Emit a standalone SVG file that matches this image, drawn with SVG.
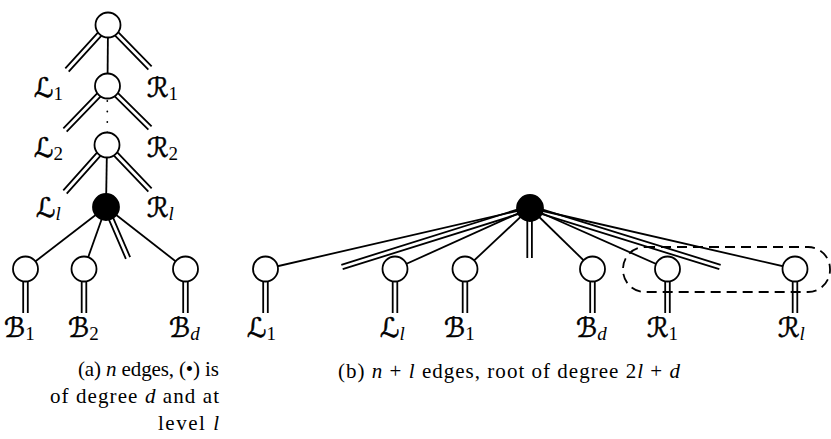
<svg xmlns="http://www.w3.org/2000/svg" width="831" height="439" viewBox="0 0 831 439">
<style>
.e{stroke:#000;stroke-width:1.8;fill:none;stroke-linecap:butt}
.n{fill:#fff;stroke:#000;stroke-width:1.8}
.k{fill:#000;stroke:#000;stroke-width:1.8}
.lab{font-family:"DejaVu Serif","DejaVu Sans",serif;font-size:27px;fill:#000;stroke:#000;stroke-width:0.6}
.sub{font-family:"Liberation Serif","Times New Roman",serif;font-size:19px;stroke:none}
.it{font-style:italic}
.cap{font-family:"Liberation Serif","Times New Roman",serif;font-size:21px;fill:#000}
.dash{stroke:#000;stroke-width:1.8;fill:none;stroke-dasharray:10 6}
</style>
<g id="connectors">
<!-- (a) -->
<line class="e" x1="108" y1="25" x2="107.5" y2="86"/>
<path class="e" d="M106.3,23.45L65.3,68.45M109.7,26.55L68.7,71.55"/>
<path class="e" d="M106.36,26.61L148.36,69.61M109.65,23.39L151.65,66.39"/>
<path class="e" d="M105.85,84.4L63.35,128.4M109.15,87.6L66.65,131.6"/>
<path class="e" d="M105.88,87.64L148.38,129.64M109.12,84.36L151.62,126.36"/>
<g fill="#000"><circle cx="107.3" cy="101" r="0.9"/><circle cx="107.3" cy="111.5" r="0.9"/><circle cx="107.3" cy="122" r="0.9"/><circle cx="107.3" cy="132.5" r="0.9"/></g>
<path class="e" d="M105.28,143.47L63.28,190.47M108.72,146.53L66.72,193.53"/>
<path class="e" d="M105.34,146.59L148.34,191.59M108.66,143.41L151.66,188.41"/>
<line class="e" x1="107" y1="145" x2="106" y2="207"/>
<line class="e" x1="106" y1="207" x2="25.5" y2="269"/>
<line class="e" x1="106" y1="207" x2="84" y2="269"/>
<line class="e" x1="106" y1="207" x2="185.5" y2="269"/>
<path class="e" d="M103.89,207.91L125.89,258.91M108.11,206.09L130.11,257.09"/>
<path class="e" d="M23.2,269V313M27.8,269V313"/>
<path class="e" d="M81.7,269V313M86.3,269V313"/>
<path class="e" d="M183.2,269V313M187.8,269V313"/>
<!-- (b) -->
<line class="e" x1="530" y1="208" x2="265.5" y2="269"/>
<path class="e" d="M529.31,205.81L341.31,264.81M530.69,210.19L342.69,269.19"/>
<line class="e" x1="530" y1="208" x2="395" y2="269"/>
<line class="e" x1="530" y1="208" x2="465" y2="269"/>
<path class="e" d="M527.3,208V258M531.9,208V258"/>
<line class="e" x1="530" y1="208" x2="592.5" y2="269"/>
<line class="e" x1="530" y1="208" x2="667.5" y2="269"/>
<path class="e" d="M529.32,210.2L719.32,269.2M530.68,205.8L720.68,264.8"/>
<line class="e" x1="530" y1="208" x2="795" y2="269"/>
<path class="e" d="M263.2,269V313M267.8,269V313"/>
<path class="e" d="M392.7,269V313M397.3,269V313"/>
<path class="e" d="M462.7,269V313M467.3,269V313"/>
<path class="e" d="M590.2,269V313M594.8,269V313"/>
<path class="e" d="M665.2,269V313M669.8,269V313"/>
<path class="e" d="M792.7,269V313M797.3,269V313"/>
</g>
<g id="group-R">
<rect class="dash" x="623" y="247" width="207" height="45" rx="22" ry="22"/>
</g>
<!-- (a) nodes -->
<g id="a-n0"><circle class="n" cx="108" cy="25" r="12.5"/></g>
<g id="a-n1"><circle class="n" cx="107.5" cy="86" r="12.5"/>
<text class="lab" x="34" y="97">ℒ<tspan class="sub" dy="3">1</tspan></text>
<text class="lab" x="147" y="97">ℛ<tspan class="sub" dy="3">1</tspan></text></g>
<g id="a-n2"><circle class="n" cx="107" cy="145" r="12.5"/>
<text class="lab" x="34" y="157">ℒ<tspan class="sub" dy="3">2</tspan></text>
<text class="lab" x="147" y="157">ℛ<tspan class="sub" dy="3">2</tspan></text></g>
<g id="a-root"><circle class="k" cx="106" cy="207" r="13"/>
<text class="lab" x="36" y="217">ℒ<tspan class="sub it" dy="3">l</tspan></text>
<text class="lab" x="147" y="217">ℛ<tspan class="sub it" dy="3">l</tspan></text></g>
<g id="a-b1"><circle class="n" cx="25.5" cy="269" r="12.5"/>
<text class="lab" x="4" y="337">ℬ<tspan class="sub" dy="3">1</tspan></text></g>
<g id="a-b2"><circle class="n" cx="84" cy="269" r="12.5"/>
<text class="lab" x="68" y="337">ℬ<tspan class="sub" dy="3">2</tspan></text></g>
<g id="a-bd"><circle class="n" cx="185.5" cy="269" r="12.5"/>
<text class="lab" x="169" y="337">ℬ<tspan class="sub it" dy="3">d</tspan></text></g>
<!-- (b) nodes -->
<g id="b-root"><circle class="k" cx="530" cy="208" r="13"/></g>
<g id="b-L1"><circle class="n" cx="265.5" cy="269" r="12.5"/>
<text class="lab" x="247" y="337">ℒ<tspan class="sub" dy="3">1</tspan></text></g>
<g id="b-Ll"><circle class="n" cx="395" cy="269" r="12.5"/>
<text class="lab" x="380" y="337">ℒ<tspan class="sub it" dy="3">l</tspan></text></g>
<g id="b-B1"><circle class="n" cx="465" cy="269" r="12.5"/>
<text class="lab" x="444" y="337">ℬ<tspan class="sub" dy="3">1</tspan></text></g>
<g id="b-Bd"><circle class="n" cx="592.5" cy="269" r="12.5"/>
<text class="lab" x="576" y="337">ℬ<tspan class="sub it" dy="3">d</tspan></text></g>
<g id="b-R1"><circle class="n" cx="667.5" cy="269" r="12.5"/>
<text class="lab" x="647" y="337">ℛ<tspan class="sub" dy="3">1</tspan></text></g>
<g id="b-Rl"><circle class="n" cx="795" cy="269" r="12.5"/>
<text class="lab" x="778" y="337">ℛ<tspan class="sub it" dy="3">l</tspan></text></g>
<!-- captions -->
<g id="captions">
<text class="cap" x="78" y="376" textLength="141">(a) <tspan class="it">n</tspan> edges, (•) is</text>
<text class="cap" x="50" y="403" textLength="169">of degree <tspan class="it">d</tspan> and at</text>
<text class="cap" x="158" y="430" textLength="61">level <tspan class="it">l</tspan></text>
<text class="cap" x="338" y="378" textLength="342">(b) <tspan class="it">n</tspan> + <tspan class="it">l</tspan> edges, root of degree 2<tspan class="it">l</tspan> + <tspan class="it">d</tspan></text>
</g>
</svg>
